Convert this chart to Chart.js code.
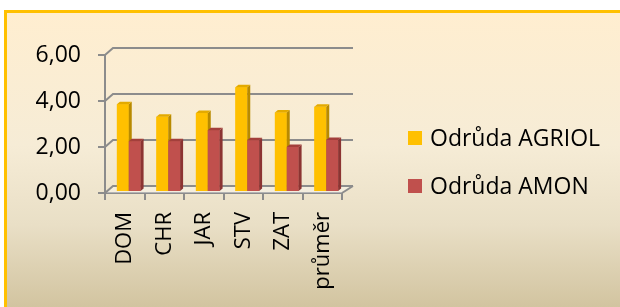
<!DOCTYPE html>
<html>
<head>
<meta charset="utf-8">
<script src="https://cdn.jsdelivr.net/npm/chart.js@4"></script>
<style>
html,body{margin:0;padding:0;background:#fff;overflow:hidden;}
#c{display:block;}
</style>
</head>
<body>
<canvas id="c" width="620" height="307"></canvas>
<script>
// data
var categories = ['DOM', 'CHR', 'JAR', 'STV', 'ZAT', 'průměr'];
var agriol = [3.82, 3.27, 3.44, 4.55, 3.46, 3.71];
var amon = [2.21, 2.21, 2.69, 2.25, 1.96, 2.26];
var seriesNames = ['Odrůda AGRIOL', 'Odrůda AMON'];

var FONT = 'Open Sans';
var GRID = '#8c8c8c';
var FRONT = ['#FFC000', '#C0504D'];
var SIDE = ['#B88A00', '#8C3432'];
var TOP = ['#E3AA00', '#A33F3B'];

// fake 3d: back wall offset, bar shift (bars stand mid-depth), bar depth
var DX = 8, DY = -7, DXR = 11;
var BX = 4, BY = -1;
var SD = 3, SH = -2.5;

var frame = {
    id: 'frame',
    beforeDraw: function(chart){
        var ctx = chart.ctx, w = chart.width, h = chart.height;
        ctx.save();
        var g = ctx.createLinearGradient(0, 13, 0, h);
        g.addColorStop(0, '#FFEED0');
        g.addColorStop(0.45, '#F6ECD6');
        g.addColorStop(0.72, '#E9DFC6');
        g.addColorStop(1, '#D2C4A0');
        ctx.fillStyle = g;
        ctx.fillRect(7, 13, w - 7, h - 13);
        ctx.fillStyle = '#FFC000';
        ctx.fillRect(4, 10, w - 4, 3);
        ctx.fillRect(4, 10, 3, h - 10);
        ctx.restore();
    }
};

var fake3d = {
    id: 'fake3d',
    beforeDatasetsDraw: function(chart){
        var ctx = chart.ctx, a = chart.chartArea, ys = chart.scales.y;
        ctx.save();
        ctx.fillStyle = 'rgba(255,255,255,0.35)';
        ctx.beginPath();
        ctx.moveTo(a.left, a.bottom);
        ctx.lineTo(a.left + DX, a.bottom + DY);
        ctx.lineTo(a.right + DXR, a.bottom + DY);
        ctx.lineTo(a.right, a.bottom);
        ctx.closePath();
        ctx.fill();
        ctx.strokeStyle = GRID;
        ctx.lineWidth = 2;
        ys.ticks.forEach(function(t){
            var py = ys.getPixelForValue(t.value);
            ctx.beginPath();
            ctx.moveTo(a.left, py);
            ctx.lineTo(a.left + DX, py + DY);
            ctx.lineTo(a.right + DXR, py + DY);
            ctx.stroke();
        });
        ctx.beginPath();
        ctx.moveTo(a.right, a.bottom);
        ctx.lineTo(a.right + DXR, a.bottom + DY);
        ctx.stroke();
        ctx.restore();
        ctx.save();
        ctx.translate(BX, BY);
    },
    afterDatasetsDraw: function(chart){
        var ctx = chart.ctx;
        for(var i=0;i<chart.data.datasets.length;i++){
            chart.getDatasetMeta(i).data.forEach(function(bar){
                var p = bar.getProps(['x','y','base','width'], true);
                var l = p.x - p.width/2, r = p.x + p.width/2;
                bar.draw(ctx);
                ctx.fillStyle = SIDE[i];
                ctx.beginPath();
                ctx.moveTo(r, p.y); ctx.lineTo(r+SD, p.y+SH);
                ctx.lineTo(r+SD, p.base+SH); ctx.lineTo(r, p.base);
                ctx.closePath(); ctx.fill();
                ctx.fillStyle = TOP[i];
                ctx.beginPath();
                ctx.moveTo(l, p.y); ctx.lineTo(l+SD, p.y+SH);
                ctx.lineTo(r+SD, p.y+SH); ctx.lineTo(r, p.y);
                ctx.closePath(); ctx.fill();
            });
        }
        ctx.restore();
    }
};

var legendBoxes = {
    id: 'legendBoxes',
    afterDraw: function(chart){
        var ctx = chart.ctx;
        ctx.save();
        ctx.font = '23px "' + FONT + '"';
        ctx.textBaseline = 'middle';
        chart.data.datasets.forEach(function(ds, i){
            var cy = 138 + i*48;
            ctx.fillStyle = ds.backgroundColor;
            ctx.fillRect(408, cy-7, 14, 14);
            ctx.fillStyle = '#000';
            ctx.fillText(ds.label, 430, cy+1);
        });
        ctx.restore();
    }
};

new Chart(document.getElementById('c'), {
    type: 'bar',
    data: {
        labels: categories,
        datasets: [
            {label: seriesNames[0], data: agriol, backgroundColor: FRONT[0]},
            {label: seriesNames[1], data: amon, backgroundColor: FRONT[1]}
        ]
    },
    options: {
        responsive: false,
        animation: false,
        categoryPercentage: 0.6,
        barPercentage: 1,
        layout: {padding: {top: 55, right: 278, left: 0, bottom: 0}},
        plugins: {legend: {display: false}, tooltip: {enabled: false}},
        scales: {
            x: {
                ticks: {minRotation: 90, maxRotation: 90, padding: 12, color: '#000',
                    font: {family: FONT, size: 22}},
                grid: {drawOnChartArea: false, tickLength: 7, color: GRID, lineWidth: 2, offset: true},
                border: {color: GRID, width: 2},
                afterFit: function(s){ s.height = 114; }
            },
            y: {
                min: 0, max: 6,
                ticks: {stepSize: 2, padding: 17, color: '#000', font: {family: FONT, size: 23},
                    callback: function(v){ return v.toFixed(2).replace('.', ','); }},
                grid: {drawOnChartArea: false, tickLength: 7, color: GRID, lineWidth: 2},
                border: {color: GRID, width: 2},
                afterFit: function(s){ s.width = 105; }
            }
        }
    },
    plugins: [frame, fake3d, legendBoxes]
});
</script>
</body>
</html>
